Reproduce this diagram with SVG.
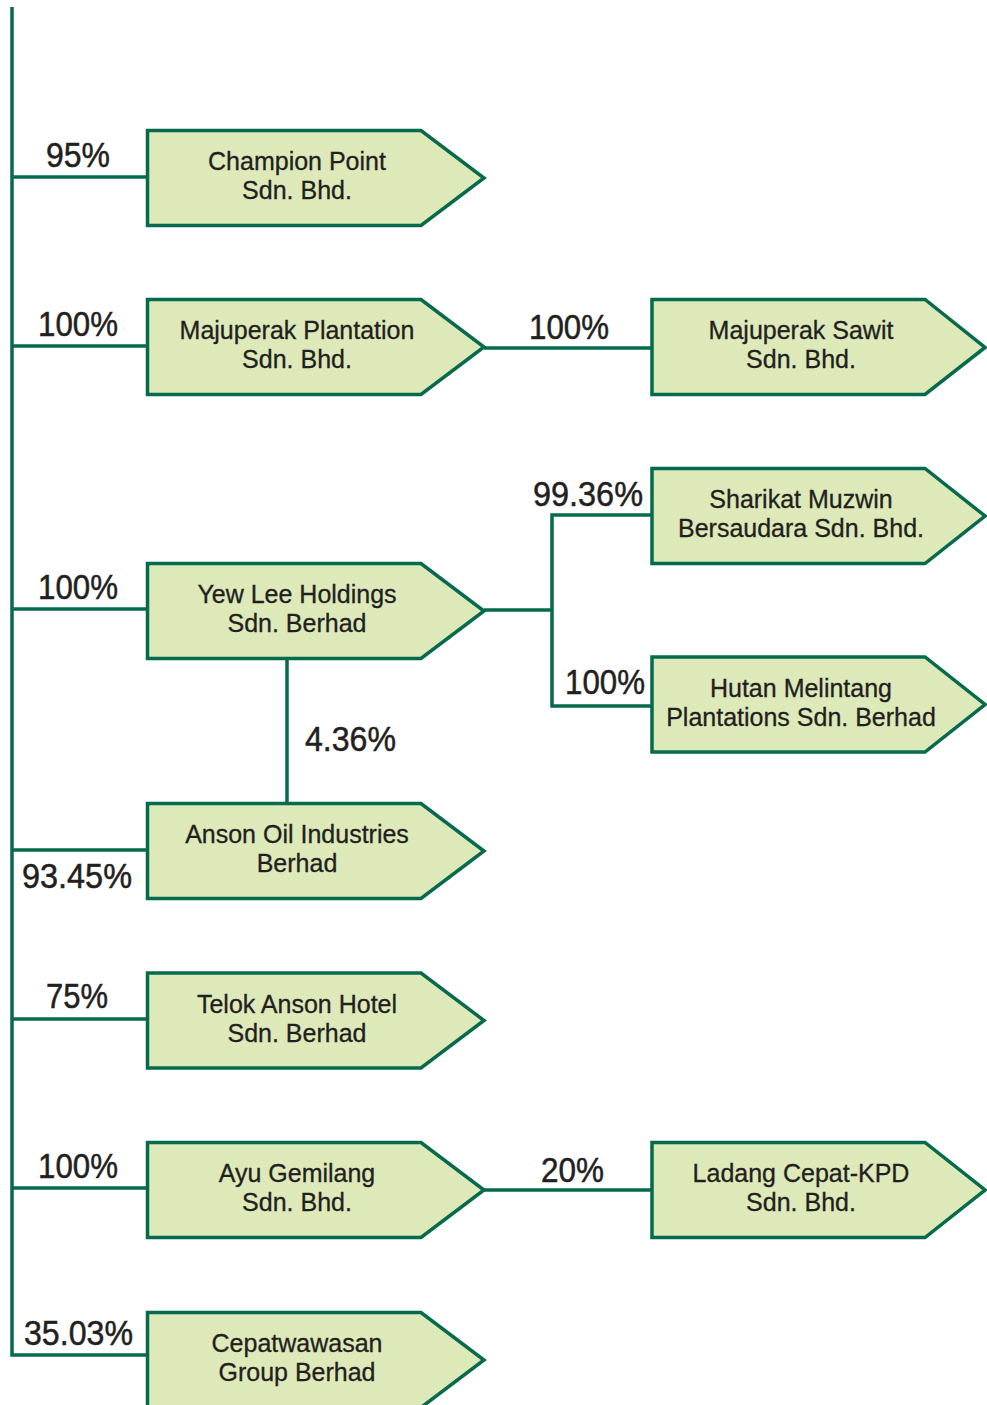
<svg xmlns="http://www.w3.org/2000/svg" width="987" height="1405" viewBox="0 0 987 1405">
<style>
.box{fill:#dde9b9;stroke:#066a4c;stroke-width:3.5;stroke-linejoin:miter}
.ln{fill:none;stroke:#066a4c;stroke-width:3.5}
.t{font-family:"Liberation Sans",Arial,sans-serif;font-size:25px;fill:#231f20;stroke:#231f20;stroke-width:0.3;text-anchor:middle}
.p{font-family:"Liberation Sans",Arial,sans-serif;font-size:35px;fill:#231f20;stroke:#231f20;stroke-width:0.5}
</style>
<g id="connectors">
<path class="ln" d="M12,7 V1355 H147"/>
<path class="ln" d="M12,177 H147"/>
<path class="ln" d="M12,346 H147"/>
<path class="ln" d="M484,348 H652"/>
<path class="ln" d="M12,609 H147"/>
<path class="ln" d="M484,610 H552"/>
<path class="ln" d="M652,515 H552 V706 H652"/>
<path class="ln" d="M287,659 V803"/>
<path class="ln" d="M12,850 H147"/>
<path class="ln" d="M12,1019 H147"/>
<path class="ln" d="M12,1188 H147"/>
<path class="ln" d="M484,1190 H652"/>
</g>
<g id="labels">
<text class="p" x="46" y="167" textLength="64" lengthAdjust="spacingAndGlyphs">95%</text>
<text class="p" x="38" y="336" textLength="80" lengthAdjust="spacingAndGlyphs">100%</text>
<text class="p" x="529" y="339" textLength="80" lengthAdjust="spacingAndGlyphs">100%</text>
<text class="p" x="533" y="506" textLength="110" lengthAdjust="spacingAndGlyphs">99.36%</text>
<text class="p" x="38" y="599" textLength="80" lengthAdjust="spacingAndGlyphs">100%</text>
<text class="p" x="565" y="694" textLength="80" lengthAdjust="spacingAndGlyphs">100%</text>
<text class="p" x="305" y="751" textLength="91" lengthAdjust="spacingAndGlyphs">4.36%</text>
<text class="p" x="22" y="888" textLength="110" lengthAdjust="spacingAndGlyphs">93.45%</text>
<text class="p" x="46" y="1008" textLength="62" lengthAdjust="spacingAndGlyphs">75%</text>
<text class="p" x="38" y="1178" textLength="80" lengthAdjust="spacingAndGlyphs">100%</text>
<text class="p" x="541" y="1182" textLength="63" lengthAdjust="spacingAndGlyphs">20%</text>
<text class="p" x="24" y="1345" textLength="109" lengthAdjust="spacingAndGlyphs">35.03%</text>
</g>
<g id="champion">
<polygon class="box" points="147.5,130.5 421,130.5 484,178 421,225.5 147.5,225.5"/>
<text class="t" x="297" y="170">Champion Point</text>
<text class="t" x="297" y="199">Sdn. Bhd.</text>
</g>
<g id="majuperak-plantation">
<polygon class="box" points="147.5,299.5 421,299.5 484,347 421,394.5 147.5,394.5"/>
<text class="t" x="297" y="339">Majuperak Plantation</text>
<text class="t" x="297" y="368">Sdn. Bhd.</text>
</g>
<g id="majuperak-sawit">
<polygon class="box" points="652,299.5 925,299.5 985,347.5 925,394.5 652,394.5"/>
<text class="t" x="801" y="339">Majuperak Sawit</text>
<text class="t" x="801" y="368">Sdn. Bhd.</text>
</g>
<g id="sharikat-muzwin">
<polygon class="box" points="652,468.5 925,468.5 985,516 925,563.5 652,563.5"/>
<text class="t" x="801" y="508">Sharikat Muzwin</text>
<text class="t" x="801" y="537">Bersaudara Sdn. Bhd.</text>
</g>
<g id="yew-lee">
<polygon class="box" points="147.5,563.5 421,563.5 484,611 421,658.5 147.5,658.5"/>
<text class="t" x="297" y="603">Yew Lee Holdings</text>
<text class="t" x="297" y="632">Sdn. Berhad</text>
</g>
<g id="hutan-melintang">
<polygon class="box" points="652,657 925,657 985,704.5 925,752 652,752"/>
<text class="t" x="801" y="697">Hutan Melintang</text>
<text class="t" x="801" y="726">Plantations Sdn. Berhad</text>
</g>
<g id="anson-oil">
<polygon class="box" points="147.5,803.5 421,803.5 484,851 421,898.5 147.5,898.5"/>
<text class="t" x="297" y="843">Anson Oil Industries</text>
<text class="t" x="297" y="872">Berhad</text>
</g>
<g id="telok-anson">
<polygon class="box" points="147.5,973 421,973 484,1020.5 421,1068 147.5,1068"/>
<text class="t" x="297" y="1013">Telok Anson Hotel</text>
<text class="t" x="297" y="1042">Sdn. Berhad</text>
</g>
<g id="ayu-gemilang">
<polygon class="box" points="147.5,1142.5 421,1142.5 484,1190 421,1237.5 147.5,1237.5"/>
<text class="t" x="297" y="1182">Ayu Gemilang</text>
<text class="t" x="297" y="1211">Sdn. Bhd.</text>
</g>
<g id="ladang-cepat">
<polygon class="box" points="652,1142.5 925,1142.5 985,1190 925,1237.5 652,1237.5"/>
<text class="t" x="801" y="1182">Ladang Cepat-KPD</text>
<text class="t" x="801" y="1211">Sdn. Bhd.</text>
</g>
<g id="cepatwawasan">
<polygon class="box" points="147.5,1312.5 421,1312.5 484,1360 421,1407.5 147.5,1407.5"/>
<text class="t" x="297" y="1352">Cepatwawasan</text>
<text class="t" x="297" y="1381">Group Berhad</text>
</g>
</svg>
